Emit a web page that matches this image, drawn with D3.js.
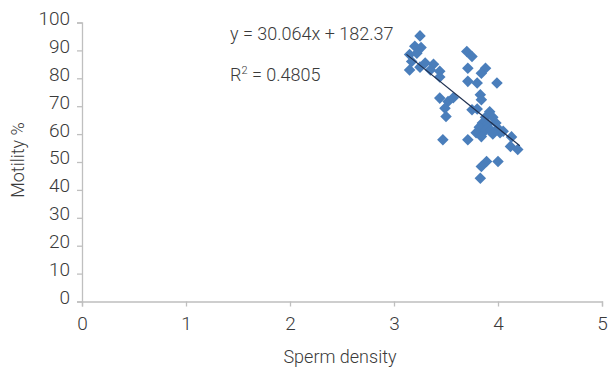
<!DOCTYPE html>
<html>
<head>
<meta charset="utf-8">
<script src="https://cdn.jsdelivr.net/npm/d3@7"></script>
<style>
  body { margin: 0; background: #fff; }
  text { font-family: Roboto, "Noto Sans", sans-serif; font-weight: 300; fill: #3a3a3a; }
</style>
</head>
<body>
<script>
// Chart size
//= ================================
let svgWidth = 612;
let svgHeight = 375;
let margin = { top: 22.5, left: 82 };
let width = 602 - margin.left;
let height = 301.5 - margin.top;

// Data
// =================================
let densityValues = [3.25, 3.2, 3.26, 3.15, 3.22, 3.17, 3.15, 3.25, 3.3, 3.38, 3.35, 3.44, 3.44, 3.44, 3.52, 3.57, 3.49, 3.5, 3.47,
  3.7, 3.75, 3.71, 3.88, 3.84, 3.71, 3.8, 3.99, 3.83, 3.84, 3.75, 3.8, 3.92, 3.88, 3.95, 3.85, 3.9, 3.98, 3.82, 3.87,
  3.93, 4.0, 4.02, 3.95, 3.79, 3.71, 3.84, 4.05, 4.13, 4.12, 4.19, 4.0, 3.89, 3.84, 3.83];
let motilityValues = [95.2, 91.5, 91, 88.5, 89, 86, 83, 84, 85.5, 85, 83, 82.5, 80.5, 72.9, 71.7, 73, 69.3, 66.3, 58,
  89.6, 87.8, 83.6, 83.6, 81.8, 78.9, 78.3, 78.3, 74.1, 72.3, 68.7, 69, 68, 66, 66, 64, 63.5, 64, 62.5, 61,
  61.5, 62, 60.5, 60, 60.5, 58, 59.1, 61, 59, 55.6, 54.5, 50.2, 50.2, 48.4, 44.2];
let xTicks = [0, 1, 2, 3, 4, 5];
let yTicks = [0, 10, 20, 30, 40, 50, 60, 70, 80, 90, 100];
let trendSlope = -30.064;
let trendIntercept = 182.37;
let trendRange = [3.12, 4.21];
let equationLabel = "y = 30.064x + 182.37";
let rSquaredLabel = "0.4805";

let points = densityValues.map((d, i) => ({ x: d, y: motilityValues[i] }));

let svg = d3.select("body")
  .append("svg")
  .attr("width", svgWidth)
  .attr("height", svgHeight);
let chartGroup = svg.append("g")
  .attr("transform", `translate(${margin.left}, ${margin.top})`);

// Scales
// =================================
let xScale = d3.scaleLinear().domain([0, 5]).range([0, width]);
let yScale = d3.scaleLinear().domain([0, 100]).range([height, 0]);

// Axes
// =================================
let xAxis = chartGroup.append("g")
  .attr("transform", `translate(0, ${height})`)
  .call(d3.axisBottom(xScale).tickValues(xTicks).tickSize(5).tickPadding(10).tickFormat(d3.format("d")));
let yAxis = chartGroup.append("g")
  .call(d3.axisLeft(yScale).tickValues(yTicks).tickSize(5).tickPadding(7).tickFormat(d3.format("d")));

[xAxis, yAxis].forEach(function(ax) {
  ax.select(".domain").attr("stroke", "#bfbfbf").attr("stroke-width", 1.3);
  ax.selectAll(".tick line").attr("stroke", "#bfbfbf").attr("stroke-width", 1.3);
  ax.selectAll(".tick text")
    .attr("font-family", "Roboto, sans-serif")
    .attr("font-size", "19px")
    .attr("font-weight", 300)
    .attr("fill", "#3a3a3a");
});
// Excel puts the y labels a bit above their tick
yAxis.selectAll(".tick text").attr("dy", "0.1em");

// Points
// =================================
let diamond = d3.symbol().type(d3.symbolDiamond2).size(85);
chartGroup.append("g")
  .selectAll("path")
  .data(points)
  .enter()
  .append("path")
  .attr("d", diamond)
  .attr("transform", d => `translate(${xScale(d.x)}, ${yScale(d.y)})`)
  .attr("fill", "#4a7ebb");

// Trendline
// =================================
chartGroup.append("line")
  .attr("x1", xScale(trendRange[0]))
  .attr("y1", yScale(trendSlope * trendRange[0] + trendIntercept))
  .attr("x2", xScale(trendRange[1]))
  .attr("y2", yScale(trendSlope * trendRange[1] + trendIntercept))
  .attr("stroke", "#1f3050")
  .attr("stroke-width", 1.2);

// Equation labels
// =================================
svg.append("text")
  .attr("x", 230)
  .attr("y", 40)
  .attr("font-size", "18px")
  .text(equationLabel);

let r2 = svg.append("text")
  .attr("x", 230)
  .attr("y", 81)
  .attr("font-size", "18px");
r2.append("tspan").text("R");
r2.append("tspan").attr("dy", -7).attr("font-size", "11px").text("2");
r2.append("tspan").attr("dy", 7).text(" = " + rSquaredLabel);

// Axis titles
// =================================
svg.append("text")
  .attr("x", 340)
  .attr("y", 363)
  .attr("text-anchor", "middle")
  .attr("font-size", "18px")
  .text("Sperm density");

svg.append("text")
  .attr("transform", "translate(24, 160) rotate(-90)")
  .attr("text-anchor", "middle")
  .attr("font-size", "18px")
  .text("Motility %");
</script>
</body>
</html>
